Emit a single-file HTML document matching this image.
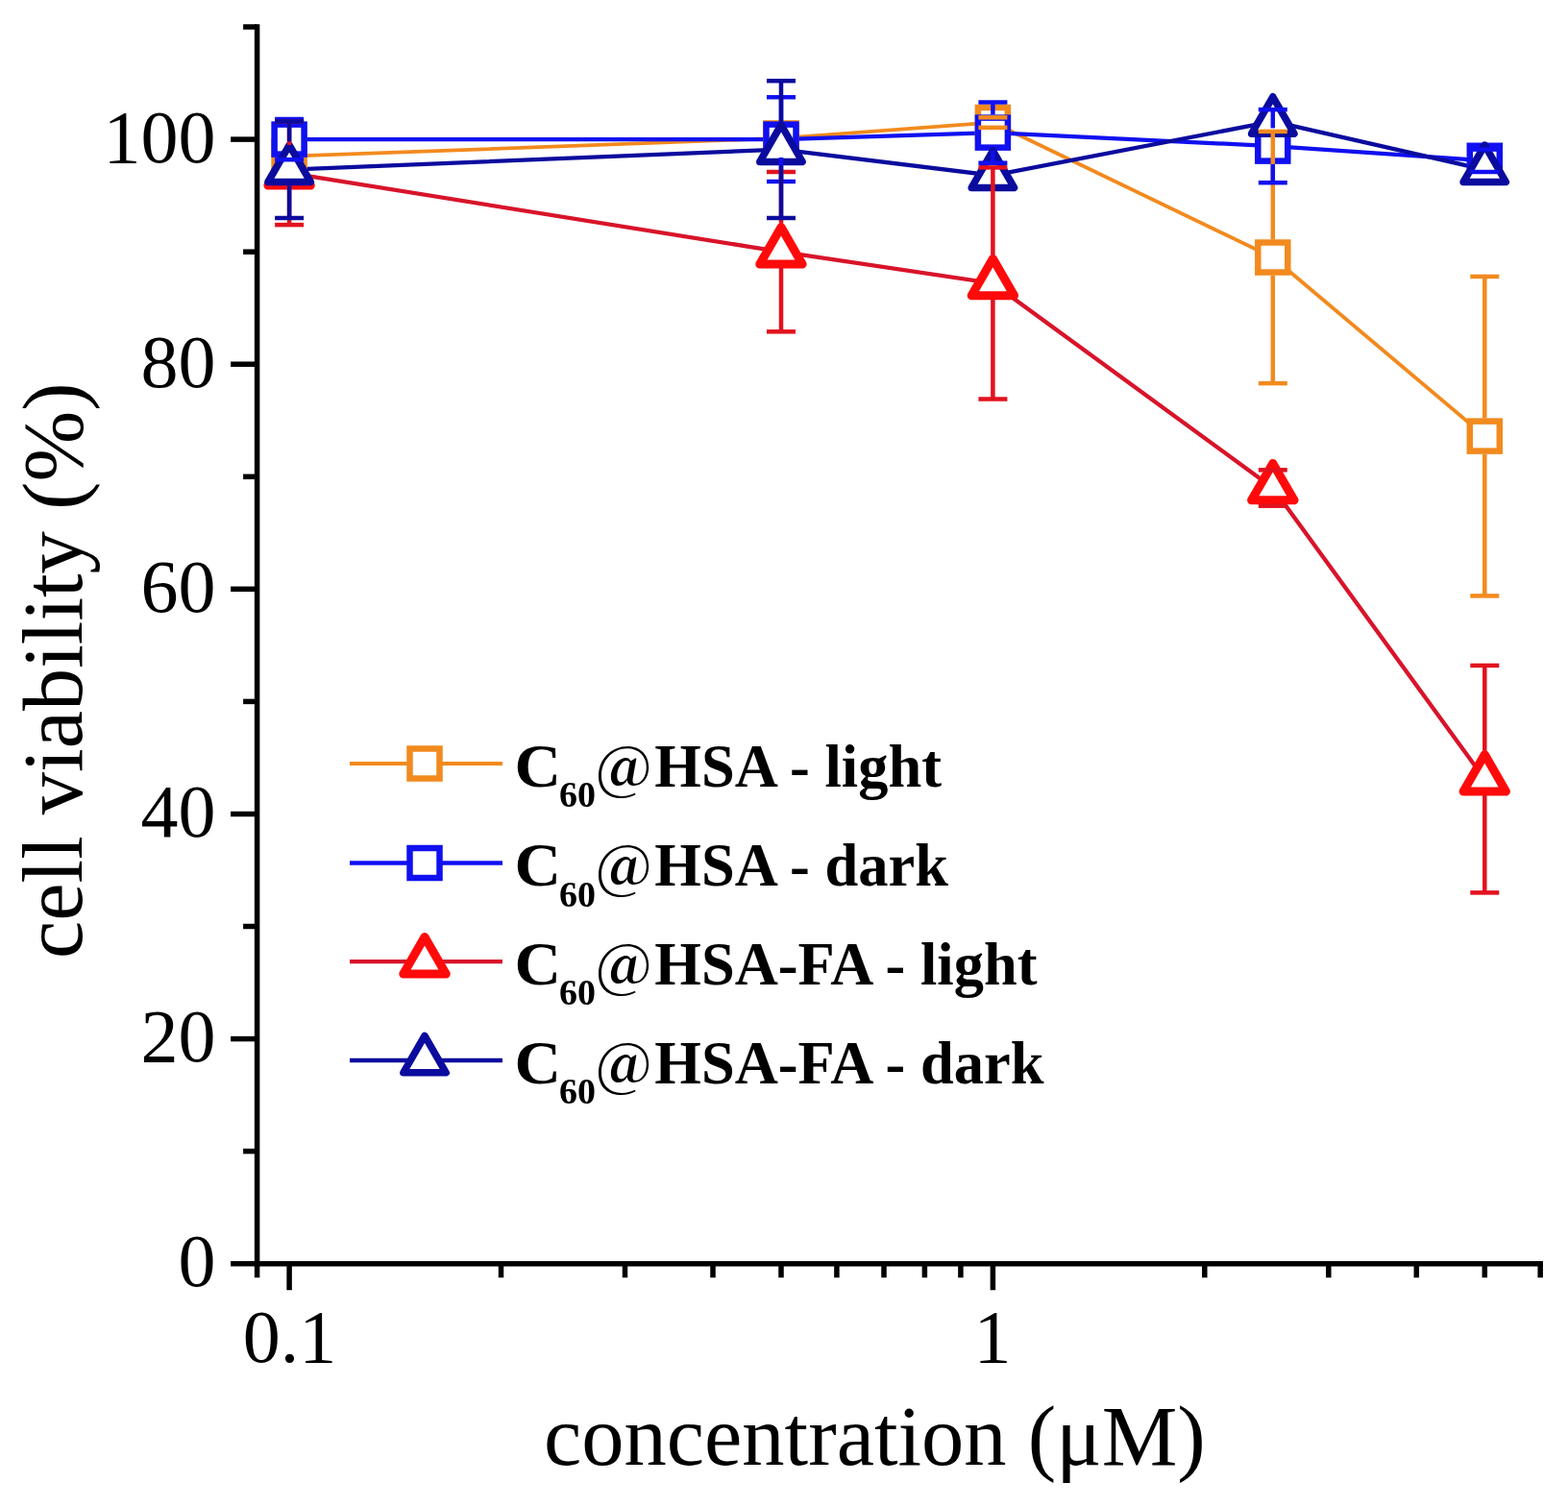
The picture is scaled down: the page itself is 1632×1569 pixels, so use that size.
<!DOCTYPE html>
<html><head><meta charset="utf-8"><title>cell viability</title>
<style>html,body{margin:0;padding:0;background:#fff;}body{width:1632px;height:1569px;overflow:hidden;}svg{display:block;}</style>
</head><body>
<svg width="1632" height="1569" viewBox="0 0 1632 1569">
<rect width="1632" height="1569" fill="#fff"/>
<g stroke="#000" stroke-width="5.5" stroke-linecap="butt"><line x1="240.1" y1="1315.7" x2="267.6" y2="1315.7"/><line x1="253.1" y1="1198.6" x2="267.6" y2="1198.6"/><line x1="240.1" y1="1081.6" x2="267.6" y2="1081.6"/><line x1="253.1" y1="964.5" x2="267.6" y2="964.5"/><line x1="240.1" y1="847.5" x2="267.6" y2="847.5"/><line x1="253.1" y1="730.4" x2="267.6" y2="730.4"/><line x1="240.1" y1="613.3" x2="267.6" y2="613.3"/><line x1="253.1" y1="496.3" x2="267.6" y2="496.3"/><line x1="240.1" y1="379.2" x2="267.6" y2="379.2"/><line x1="253.1" y1="262.2" x2="267.6" y2="262.2"/><line x1="240.1" y1="145.1" x2="267.6" y2="145.1"/><line x1="253.1" y1="28.0" x2="267.6" y2="28.0"/><line x1="267.6" y1="1315.7" x2="267.6" y2="1330.2"/><line x1="301.1" y1="1315.7" x2="301.1" y2="1343.2"/><line x1="521.5" y1="1315.7" x2="521.5" y2="1330.2"/><line x1="650.5" y1="1315.7" x2="650.5" y2="1330.2"/><line x1="742.0" y1="1315.7" x2="742.0" y2="1330.2"/><line x1="813.0" y1="1315.7" x2="813.0" y2="1330.2"/><line x1="870.9" y1="1315.7" x2="870.9" y2="1330.2"/><line x1="920.0" y1="1315.7" x2="920.0" y2="1330.2"/><line x1="962.4" y1="1315.7" x2="962.4" y2="1330.2"/><line x1="999.9" y1="1315.7" x2="999.9" y2="1330.2"/><line x1="1033.4" y1="1315.7" x2="1033.4" y2="1343.2"/><line x1="1253.8" y1="1315.7" x2="1253.8" y2="1330.2"/><line x1="1382.8" y1="1315.7" x2="1382.8" y2="1330.2"/><line x1="1474.3" y1="1315.7" x2="1474.3" y2="1330.2"/><line x1="1545.3" y1="1315.7" x2="1545.3" y2="1330.2"/><line x1="1603.2" y1="1315.7" x2="1603.2" y2="1330.2"/></g>
<g stroke="#000" stroke-width="5.5" stroke-linecap="square"><line x1="267.6" y1="1315.7" x2="1603.2" y2="1315.7"/><line x1="267.6" y1="1315.7" x2="267.6" y2="28.0"/></g>
<g font-family="'Liberation Serif', serif" font-size="78" fill="#000"><text x="224.5" y="1339.2" text-anchor="end">0</text><text x="224.5" y="1105.1" text-anchor="end">20</text><text x="224.5" y="871.0" text-anchor="end">40</text><text x="224.5" y="636.8" text-anchor="end">60</text><text x="224.5" y="402.7" text-anchor="end">80</text><text x="224.5" y="168.6" text-anchor="end">100</text><text x="301.5" y="1418" text-anchor="middle">0.1</text><text x="1033" y="1418" text-anchor="middle">1</text></g>
<text x="566" y="1524.5" font-family="'Liberation Serif', serif" font-size="88.5" fill="#000">concentration (μM)</text>
<text transform="translate(84.5,998) rotate(-90)" font-family="'Liberation Serif', serif" font-size="88.5" fill="#000">cell viability (%)</text>
<polyline points="301.1,162.7 813.0,143.9 1033.4,127.5 1324.8,268.0 1545.3,454.1" fill="none" stroke="#F28A1E" stroke-width="3.8" stroke-linejoin="round"/>
<polyline points="301.1,145.1 813.0,145.1 1033.4,138.1 1324.8,152.1 1545.3,167.3" fill="none" stroke="#1010F0" stroke-width="4.3" stroke-linejoin="round"/>
<polyline points="301.1,180.2 813.0,262.2 1033.4,294.9 1324.8,508.0 1545.3,811.2" fill="none" stroke="#D8142A" stroke-width="4.3" stroke-linejoin="round"/>
<polyline points="301.1,176.7 813.0,155.6 1033.4,182.6 1324.8,126.4 1545.3,176.7" fill="none" stroke="#0B0B9E" stroke-width="4.3" stroke-linejoin="round"/>
<rect x="285.6" y="147.2" width="31" height="31" fill="#fff" stroke="#F28A1E" stroke-width="6.5"/><rect x="797.5" y="128.4" width="31" height="31" fill="#fff" stroke="#F28A1E" stroke-width="6.5"/><rect x="1017.9" y="112.0" width="31" height="31" fill="#fff" stroke="#F28A1E" stroke-width="6.5"/><rect x="1309.3" y="252.5" width="31" height="31" fill="#fff" stroke="#F28A1E" stroke-width="6.5"/><rect x="1529.8" y="438.6" width="31" height="31" fill="#fff" stroke="#F28A1E" stroke-width="6.5"/>
<rect x="285.6" y="129.6" width="31" height="31" fill="#fff" stroke="#1010F0" stroke-width="6.5"/><rect x="797.5" y="129.6" width="31" height="31" fill="#fff" stroke="#1010F0" stroke-width="6.5"/><rect x="1017.9" y="122.6" width="31" height="31" fill="#fff" stroke="#1010F0" stroke-width="6.5"/><rect x="1309.3" y="136.6" width="31" height="31" fill="#fff" stroke="#1010F0" stroke-width="6.5"/><rect x="1529.8" y="151.8" width="31" height="31" fill="#fff" stroke="#1010F0" stroke-width="6.5"/>
<path d="M301.1,154.6 L323.3,193.0 L278.9,193.0 Z" fill="#fff" stroke="#FF0A0A" stroke-width="9.0" stroke-linejoin="round"/><path d="M813.0,236.6 L835.1,275.0 L790.8,275.0 Z" fill="#fff" stroke="#FF0A0A" stroke-width="9.0" stroke-linejoin="round"/><path d="M1033.4,269.3 L1055.6,307.7 L1011.2,307.7 Z" fill="#fff" stroke="#FF0A0A" stroke-width="9.0" stroke-linejoin="round"/><path d="M1324.8,482.4 L1347.0,520.8 L1302.6,520.8 Z" fill="#fff" stroke="#FF0A0A" stroke-width="9.0" stroke-linejoin="round"/><path d="M1545.3,785.6 L1567.4,824.0 L1523.1,824.0 Z" fill="#fff" stroke="#FF0A0A" stroke-width="9.0" stroke-linejoin="round"/>
<path d="M301.1,151.1 L323.3,189.5 L278.9,189.5 Z" fill="#fff" stroke="#0B0B9E" stroke-width="7.5" stroke-linejoin="round"/><path d="M813.0,130.0 L835.1,168.4 L790.8,168.4 Z" fill="#fff" stroke="#0B0B9E" stroke-width="7.5" stroke-linejoin="round"/><path d="M1033.4,157.0 L1055.6,195.4 L1011.2,195.4 Z" fill="#fff" stroke="#0B0B9E" stroke-width="7.5" stroke-linejoin="round"/><path d="M1324.8,100.8 L1347.0,139.2 L1302.6,139.2 Z" fill="#fff" stroke="#0B0B9E" stroke-width="7.5" stroke-linejoin="round"/><path d="M1545.3,151.1 L1567.4,189.5 L1523.1,189.5 Z" fill="#fff" stroke="#0B0B9E" stroke-width="7.5" stroke-linejoin="round"/>
<g stroke="#F28A1E" stroke-width="4.5"><line x1="1018.4" y1="122.3" x2="1048.4" y2="122.3"/><line x1="1018.4" y1="132.8" x2="1048.4" y2="132.8"/><line x1="1324.8" y1="136.9" x2="1324.8" y2="249.3"/><line x1="1324.8" y1="286.8" x2="1324.8" y2="399.1"/><line x1="1309.8" y1="136.9" x2="1339.8" y2="136.9"/><line x1="1309.8" y1="399.1" x2="1339.8" y2="399.1"/><line x1="1545.3" y1="287.9" x2="1545.3" y2="435.4"/><line x1="1545.3" y1="472.9" x2="1545.3" y2="620.4"/><line x1="1530.3" y1="287.9" x2="1560.3" y2="287.9"/><line x1="1530.3" y1="620.4" x2="1560.3" y2="620.4"/></g>
<g stroke="#1010F0" stroke-width="4.5"><line x1="301.1" y1="124.0" x2="301.1" y2="126.4"/><line x1="301.1" y1="163.9" x2="301.1" y2="166.2"/><line x1="286.1" y1="124.0" x2="316.1" y2="124.0"/><line x1="286.1" y1="166.2" x2="316.1" y2="166.2"/><line x1="813.0" y1="101.2" x2="813.0" y2="126.4"/><line x1="813.0" y1="163.9" x2="813.0" y2="189.0"/><line x1="798.0" y1="101.2" x2="828.0" y2="101.2"/><line x1="798.0" y1="189.0" x2="828.0" y2="189.0"/><line x1="1033.4" y1="106.5" x2="1033.4" y2="119.3"/><line x1="1033.4" y1="156.8" x2="1033.4" y2="169.7"/><line x1="1018.4" y1="106.5" x2="1048.4" y2="106.5"/><line x1="1018.4" y1="169.7" x2="1048.4" y2="169.7"/><line x1="1324.8" y1="114.1" x2="1324.8" y2="133.4"/><line x1="1324.8" y1="170.9" x2="1324.8" y2="190.2"/><line x1="1309.8" y1="114.1" x2="1339.8" y2="114.1"/><line x1="1309.8" y1="190.2" x2="1339.8" y2="190.2"/><line x1="1530.3" y1="155.6" x2="1560.3" y2="155.6"/><line x1="1530.3" y1="179.0" x2="1560.3" y2="179.0"/></g>
<g stroke="#E2121E" stroke-width="4.5"><line x1="301.1" y1="126.4" x2="301.1" y2="150.9"/><line x1="301.1" y1="196.8" x2="301.1" y2="234.1"/><line x1="286.1" y1="126.4" x2="316.1" y2="126.4"/><line x1="286.1" y1="234.1" x2="316.1" y2="234.1"/><line x1="813.0" y1="179.0" x2="813.0" y2="232.8"/><line x1="813.0" y1="278.7" x2="813.0" y2="345.3"/><line x1="798.0" y1="179.0" x2="828.0" y2="179.0"/><line x1="798.0" y1="345.3" x2="828.0" y2="345.3"/><line x1="1033.4" y1="174.4" x2="1033.4" y2="265.6"/><line x1="1033.4" y1="311.5" x2="1033.4" y2="415.5"/><line x1="1018.4" y1="174.4" x2="1048.4" y2="174.4"/><line x1="1018.4" y1="415.5" x2="1048.4" y2="415.5"/><line x1="1324.8" y1="524.5" x2="1324.8" y2="526.7"/><line x1="1309.8" y1="489.3" x2="1339.8" y2="489.3"/><line x1="1309.8" y1="526.7" x2="1339.8" y2="526.7"/><line x1="1545.3" y1="692.9" x2="1545.3" y2="781.8"/><line x1="1545.3" y1="827.7" x2="1545.3" y2="929.4"/><line x1="1530.3" y1="692.9" x2="1560.3" y2="692.9"/><line x1="1530.3" y1="929.4" x2="1560.3" y2="929.4"/></g>
<g stroke="#0B0B9E" stroke-width="4.5"><line x1="301.1" y1="126.4" x2="301.1" y2="147.4"/><line x1="301.1" y1="193.3" x2="301.1" y2="227.0"/><line x1="286.1" y1="126.4" x2="316.1" y2="126.4"/><line x1="286.1" y1="227.0" x2="316.1" y2="227.0"/><line x1="813.0" y1="84.2" x2="813.0" y2="126.3"/><line x1="813.0" y1="172.2" x2="813.0" y2="227.0"/><line x1="798.0" y1="84.2" x2="828.0" y2="84.2"/><line x1="798.0" y1="227.0" x2="828.0" y2="227.0"/></g>
<line x1="364" y1="795" x2="523" y2="795" stroke="#F28A1E" stroke-width="3.8"/>
<rect x="426.5" y="779.5" width="31" height="31" fill="#fff" stroke="#F28A1E" stroke-width="6.5"/>
<text x="535.6" y="818.5" font-family="'Liberation Serif', serif" font-weight="bold" font-size="62.5" fill="#000" textLength="48.5" lengthAdjust="spacingAndGlyphs">C</text>
<text x="582" y="840.2" font-family="'Liberation Serif', serif" font-weight="bold" font-size="38" fill="#000">60</text>
<text x="620" y="820.5" font-family="'Noto Serif CJK SC', 'Liberation Serif', serif" font-weight="bold" font-size="60" fill="#000">@</text>
<text x="681.3" y="818.5" font-family="'Liberation Serif', serif" font-weight="bold" font-size="62.5" fill="#000">HSA - light</text>
<line x1="364" y1="898.5" x2="523" y2="898.5" stroke="#1010F0" stroke-width="4.3"/>
<rect x="426.5" y="883.0" width="31" height="31" fill="#fff" stroke="#1010F0" stroke-width="6.5"/>
<text x="535.6" y="922.0" font-family="'Liberation Serif', serif" font-weight="bold" font-size="62.5" fill="#000" textLength="48.5" lengthAdjust="spacingAndGlyphs">C</text>
<text x="582" y="943.7" font-family="'Liberation Serif', serif" font-weight="bold" font-size="38" fill="#000">60</text>
<text x="620" y="924.0" font-family="'Noto Serif CJK SC', 'Liberation Serif', serif" font-weight="bold" font-size="60" fill="#000">@</text>
<text x="681.3" y="922.0" font-family="'Liberation Serif', serif" font-weight="bold" font-size="62.5" fill="#000">HSA - dark</text>
<line x1="364" y1="1001.2" x2="523" y2="1001.2" stroke="#D8142A" stroke-width="4.3"/>
<path d="M442.0,975.6 L464.2,1014.0 L419.8,1014.0 Z" fill="#fff" stroke="#FF0A0A" stroke-width="9.0" stroke-linejoin="round"/>
<text x="535.6" y="1024.7" font-family="'Liberation Serif', serif" font-weight="bold" font-size="62.5" fill="#000" textLength="48.5" lengthAdjust="spacingAndGlyphs">C</text>
<text x="582" y="1046.4" font-family="'Liberation Serif', serif" font-weight="bold" font-size="38" fill="#000">60</text>
<text x="620" y="1026.7" font-family="'Noto Serif CJK SC', 'Liberation Serif', serif" font-weight="bold" font-size="60" fill="#000">@</text>
<text x="681.3" y="1024.7" font-family="'Liberation Serif', serif" font-weight="bold" font-size="62.5" fill="#000">HSA-FA - light</text>
<line x1="364" y1="1104" x2="523" y2="1104" stroke="#0B0B9E" stroke-width="4.3"/>
<path d="M442.0,1078.4 L464.2,1116.8 L419.8,1116.8 Z" fill="#fff" stroke="#0B0B9E" stroke-width="7.5" stroke-linejoin="round"/>
<text x="535.6" y="1127.5" font-family="'Liberation Serif', serif" font-weight="bold" font-size="62.5" fill="#000" textLength="48.5" lengthAdjust="spacingAndGlyphs">C</text>
<text x="582" y="1149.2" font-family="'Liberation Serif', serif" font-weight="bold" font-size="38" fill="#000">60</text>
<text x="620" y="1129.5" font-family="'Noto Serif CJK SC', 'Liberation Serif', serif" font-weight="bold" font-size="60" fill="#000">@</text>
<text x="681.3" y="1127.5" font-family="'Liberation Serif', serif" font-weight="bold" font-size="62.5" fill="#000">HSA-FA - dark</text>
</svg>
</body></html>
